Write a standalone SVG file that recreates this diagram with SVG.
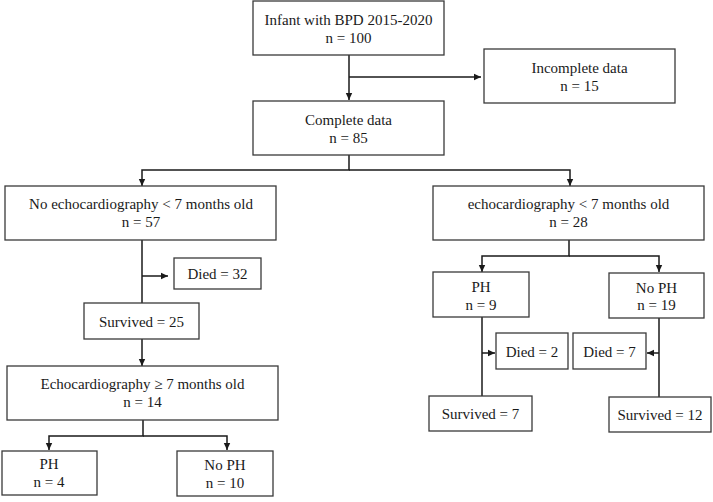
<svg xmlns="http://www.w3.org/2000/svg" width="713" height="502" viewBox="0 0 713 502">
<style>
.box{fill:#fff;stroke:#3a3a3a;stroke-width:1.3}
.t{font-family:"Liberation Serif","Times New Roman",serif;font-size:15px;fill:#1a1a1a;text-anchor:middle}
.c{fill:none;stroke:#1a1a1a;stroke-width:1.5}
</style>
<defs>
<marker id="ah" markerUnits="userSpaceOnUse" markerWidth="8" markerHeight="8" refX="7" refY="4" orient="auto">
<path d="M0,0.8 L7,4 L0,7.2 Z" fill="#1a1a1a"/>
</marker>
</defs>
<rect width="713" height="502" fill="#fff"/>
<g id="connectors">
<path class="c" d="M349,55 V100" marker-end="url(#ah)"/>
<path class="c" d="M349,77 H481" marker-end="url(#ah)"/>
<path class="c" d="M349,155 V170 H142 V186" marker-end="url(#ah)"/>
<path class="c" d="M349,170 H570 V186" marker-end="url(#ah)"/>
<path class="c" d="M142,240 V303"/>
<path class="c" d="M142,276 H168" marker-end="url(#ah)"/>
<path class="c" d="M142,339 V366" marker-end="url(#ah)"/>
<path class="c" d="M143,420 V436 H49 V450" marker-end="url(#ah)"/>
<path class="c" d="M143,436 H227 V450" marker-end="url(#ah)"/>
<path class="c" d="M569,240 V256 H482 V272" marker-end="url(#ah)"/>
<path class="c" d="M569,256 H659 V272" marker-end="url(#ah)"/>
<path class="c" d="M482,317 V396"/>
<path class="c" d="M482,353 H495" marker-end="url(#ah)"/>
<path class="c" d="M659,318 V397"/>
<path class="c" d="M659,353 H647" marker-end="url(#ah)"/>
</g>
<g id="n-infant"><rect class="box" x="253" y="1" width="191" height="54"/><text class="t" x="348.5" y="25">Infant with BPD 2015-2020</text><text class="t" x="348.5" y="43">n = 100</text></g>
<g id="n-incomplete"><rect class="box" x="484" y="49" width="191" height="54"/><text class="t" x="579.5" y="73">Incomplete data</text><text class="t" x="579.5" y="91">n = 15</text></g>
<g id="n-complete"><rect class="box" x="253" y="101" width="191" height="54"/><text class="t" x="348.5" y="125">Complete data</text><text class="t" x="348.5" y="143">n = 85</text></g>
<g id="n-noecho"><rect class="box" x="5" y="186" width="271" height="54"/><text class="t" x="141" y="209">No echocardiography &lt; 7 months old</text><text class="t" x="141" y="227">n = 57</text></g>
<g id="n-died32"><rect class="box" x="174" y="258" width="87" height="31"/><text class="t" x="217.5" y="279">Died = 32</text></g>
<g id="n-surv25"><rect class="box" x="84" y="303" width="115" height="36"/><text class="t" x="141.5" y="326.5">Survived = 25</text></g>
<g id="n-echo7"><rect class="box" x="7" y="366" width="271" height="54"/><text class="t" x="142.5" y="389">Echocardiography ≥ 7 months old</text><text class="t" x="142.5" y="407">n = 14</text></g>
<g id="n-ph4"><rect class="box" x="2" y="451" width="95" height="44"/><text class="t" x="49" y="469">PH</text><text class="t" x="49" y="487">n = 4</text></g>
<g id="n-noph10"><rect class="box" x="177" y="451" width="96" height="45"/><text class="t" x="225" y="470">No PH</text><text class="t" x="225" y="488">n = 10</text></g>
<g id="n-echo"><rect class="box" x="433" y="186" width="271" height="54"/><text class="t" x="568.5" y="209">echocardiography &lt; 7 months old</text><text class="t" x="568.5" y="227">n = 28</text></g>
<g id="n-ph9"><rect class="box" x="433" y="272" width="96" height="45"/><text class="t" x="481" y="292">PH</text><text class="t" x="481" y="309.5">n = 9</text></g>
<g id="n-noph19"><rect class="box" x="609" y="273" width="95" height="45"/><text class="t" x="656.5" y="292.5">No PH</text><text class="t" x="656.5" y="310">n = 19</text></g>
<g id="n-died2"><rect class="box" x="496" y="333" width="72" height="36"/><text class="t" x="532" y="356.5">Died = 2</text></g>
<g id="n-died7"><rect class="box" x="573" y="333" width="73" height="36"/><text class="t" x="609.5" y="356.5">Died = 7</text></g>
<g id="n-surv7"><rect class="box" x="429" y="396" width="103" height="35"/><text class="t" x="480.5" y="418.5">Survived = 7</text></g>
<g id="n-surv12"><rect class="box" x="609" y="397" width="102" height="35"/><text class="t" x="660" y="420">Survived = 12</text></g>
</svg>
